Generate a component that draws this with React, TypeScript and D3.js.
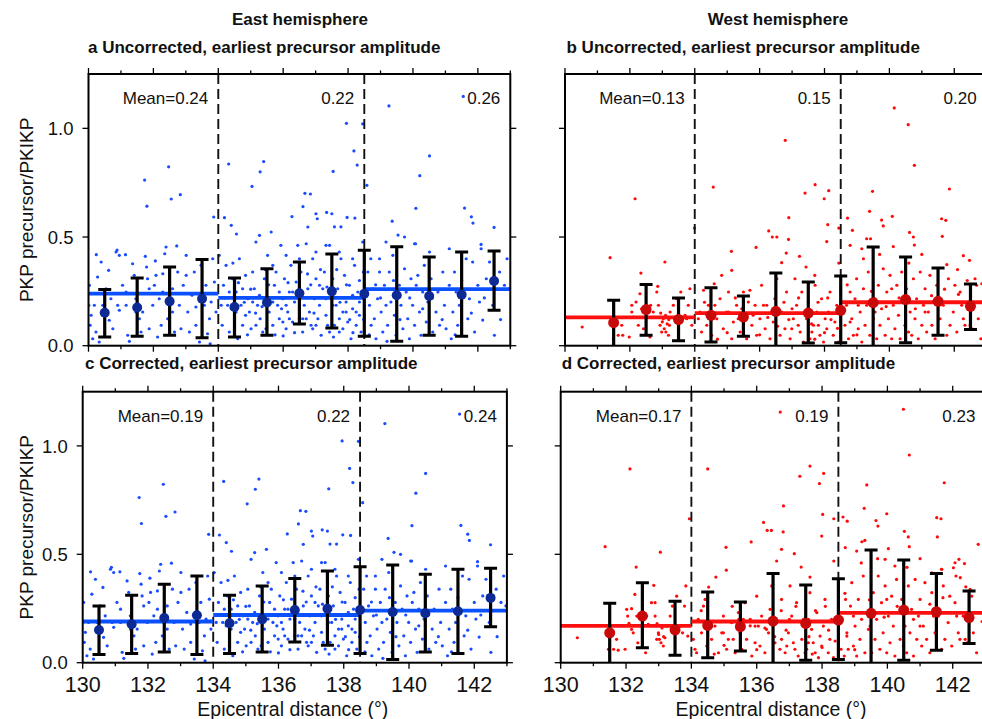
import React from 'react';
import * as d3 from 'd3';

type Pt = [number, number];

// ---------- DATA ----------
const segmentBounds = [130, 134, 138.5, 143];
const xTickValues = [130, 131, 132, 133, 134, 135, 136, 137, 138, 139, 140, 141, 142, 143];
const xTickLabels = [130, 132, 134, 136, 138, 140, 142];
const yTickValues = [0, 0.5, 1.0];

const eastBinCenters = [130.5, 131.5, 132.5, 133.5, 134.5, 135.5, 136.5, 137.5, 138.5, 139.5, 140.5, 141.5, 142.5];
const westBinCenters = [131.5, 132.5, 133.5, 134.5, 135.5, 136.5, 137.5, 138.5, 139.5, 140.5, 141.5, 142.5];

const eastUncSegMeans = [0.24, 0.22, 0.26];
const eastCorSegMeans = [0.19, 0.22, 0.24];
const westUncSegMeans = [0.13, 0.15, 0.20];
const westCorSegMeans = [0.17, 0.19, 0.23];

const eastUncMean = [0.152, 0.176, 0.204, 0.216, 0.178, 0.199, 0.241, 0.250, 0.239, 0.232, 0.229, 0.235, 0.298];
const eastUncLo = [0.040, 0.043, 0.048, 0.037, 0.040, 0.048, 0.100, 0.081, 0.044, 0.020, 0.048, 0.044, 0.163];
const eastUncHi = [0.259, 0.311, 0.362, 0.397, 0.311, 0.354, 0.385, 0.422, 0.439, 0.455, 0.408, 0.431, 0.436];

const eastCorMean = [0.151, 0.177, 0.206, 0.219, 0.182, 0.200, 0.243, 0.249, 0.243, 0.234, 0.228, 0.237, 0.299];
const eastCorLo = [0.038, 0.043, 0.049, 0.038, 0.043, 0.049, 0.095, 0.080, 0.043, 0.015, 0.049, 0.043, 0.166];
const eastCorHi = [0.262, 0.311, 0.362, 0.400, 0.311, 0.354, 0.388, 0.423, 0.442, 0.451, 0.408, 0.431, 0.436];

const westUncMean = [0.106, 0.166, 0.120, 0.140, 0.132, 0.158, 0.150, 0.163, 0.198, 0.212, 0.204, 0.181];
const westUncLo = [-0.03, 0.048, 0.023, 0.017, 0.043, -0.03, 0.012, 0.014, -0.03, 0.014, 0.048, 0.075];
const westUncHi = [0.209, 0.281, 0.219, 0.267, 0.229, 0.334, 0.293, 0.321, 0.454, 0.408, 0.357, 0.284];

const westCorMean = [0.138, 0.215, 0.151, 0.172, 0.166, 0.192, 0.181, 0.197, 0.228, 0.243, 0.235, 0.208];
const westCorLo = [-0.03, 0.069, 0.034, 0.023, 0.054, -0.03, 0.011, 0.015, -0.03, 0.011, 0.057, 0.088];
const westCorHi = [0.274, 0.369, 0.284, 0.326, 0.280, 0.411, 0.358, 0.387, 0.520, 0.474, 0.411, 0.331];

// East hemisphere individual measurements (same scatter in panels a and c)
const eastPoints: Pt[] = [
  [130.03,0.278],[130.01,0.186],[130.05,0.094],[130.13,0.032],[130.23,0.063],[130.33,0.017],[130.44,0.186],[130.49,0.140],
  [130.28,0.316],[130.62,0.347],[130.69,0.216],[130.75,0.078],[130.85,0.431],[130.95,0.416],[130.95,0.163],[131.05,0.278],
  [131.14,0.419],[131.16,0.186],[131.21,0.048],[131.26,0.020],[131.36,0.377],[131.41,0.324],[131.46,0.216],[131.57,0.124],
  [131.67,0.155],[131.75,0.411],[131.79,0.362],[131.82,0.308],[131.87,0.078],[131.98,0.186],[132.03,0.278],[132.06,0.390],
  [132.13,0.040],[132.18,0.216],[132.24,0.094],[132.29,0.331],[132.35,0.423],[132.39,0.454],[132.44,0.124],[132.49,0.186],
  [132.59,0.262],[132.65,0.063],[132.72,0.459],[132.75,0.339],[132.80,0.186],[132.85,0.078],[132.92,0.278],[133.01,0.416],
  [133.06,0.155],[133.11,0.063],[133.19,0.232],[133.26,0.339],[133.31,0.094],[133.42,0.017],[133.47,0.370],[133.57,0.186],
  [133.62,0.278],[133.67,0.055],[133.73,0.124],[133.78,0.201],[133.83,0.400],[133.88,0.293],[133.93,0.155],[133.75,0.009],
  [133.31,0.178],[133.01,0.324],[132.59,0.155],[132.29,0.247],[132.08,0.324],[131.87,0.262],[131.62,0.063],[131.46,0.155],
  [131.16,0.247],[130.90,0.186],[130.64,0.117],[130.54,0.262],[130.39,0.385],[130.18,0.186],[130.08,0.140],[130.88,0.440],
  [130.24,0.419],[131.73,0.762],[131.80,0.642],[132.47,0.823],[132.55,0.675],[132.83,0.695],[133.86,0.592],
  [134.03,0.416],[134.09,0.186],[134.12,0.094],[134.16,0.278],[134.24,0.370],[134.29,0.186],[134.34,0.063],[134.44,0.308],
  [134.50,0.124],[134.55,0.247],[134.60,0.032],[134.65,0.400],[134.70,0.186],[134.75,0.094],[134.84,0.324],[134.91,0.216],
  [134.96,0.155],[135.01,0.078],[135.06,0.339],[135.11,0.262],[135.16,0.477],[135.21,0.186],[135.27,0.508],[135.29,0.124],
  [135.37,0.063],[135.42,0.308],[135.47,0.216],[135.52,0.416],[135.57,0.155],[135.63,0.523],[135.68,0.094],[135.73,0.278],
  [135.78,0.339],[135.83,0.186],[135.88,0.124],[135.93,0.462],[135.99,0.216],[136.04,0.308],[136.09,0.078],[136.14,0.155],
  [136.19,0.247],[136.24,0.370],[136.29,0.109],[136.35,0.201],[136.40,0.293],[136.45,0.462],[136.50,0.124],[136.55,0.339],
  [136.60,0.063],[136.65,0.186],[136.71,0.469],[136.76,0.262],[136.81,0.155],[136.86,0.094],[136.91,0.400],[136.96,0.216],
  [137.01,0.308],[137.07,0.124],[137.12,0.186],[137.17,0.048],[137.22,0.262],[137.27,0.339],[137.32,0.140],[137.37,0.094],
  [137.43,0.462],[137.48,0.216],[137.53,0.308],[137.58,0.094],[137.63,0.186],[137.68,0.262],[137.73,0.063],[137.78,0.400],
  [137.84,0.155],[137.89,0.324],[137.94,0.201],[137.99,0.109],[138.04,0.278],[138.09,0.032],[138.14,0.170],[138.20,0.370],
  [138.25,0.094],[138.30,0.247],[138.35,0.140],[138.40,0.063],[138.45,0.477],[138.47,0.339],
  [134.55,0.155],[134.84,0.140],[135.06,0.201],[135.27,0.232],[135.47,0.078],[135.68,0.201],[135.88,0.247],[136.09,0.186],
  [136.29,0.247],[136.50,0.201],[136.71,0.124],[136.91,0.078],[137.12,0.278],[137.32,0.216],[137.53,0.186],[137.73,0.124],
  [137.94,0.155],[138.14,0.232],[138.35,0.201],[134.34,0.247],[134.75,0.262],[135.16,0.094],[135.99,0.109],[136.19,0.124],
  [136.60,0.124],[137.01,0.094],[137.43,0.063],[137.84,0.078],[138.25,0.155],[135.68,0.370],[136.09,0.416],[136.50,0.400],
  [137.01,0.431],[137.32,0.462],[137.73,0.431],[138.14,0.400],
  [134.20,0.220],[134.40,0.170],[134.62,0.290],[134.80,0.200],[135.00,0.260],[135.15,0.150],[135.35,0.180],[135.55,0.280],
  [135.75,0.050],[135.95,0.170],[136.15,0.290],[136.35,0.060],[136.55,0.230],[136.75,0.330],[136.95,0.150],[137.15,0.350],
  [137.35,0.270],[137.55,0.040],[137.75,0.200],[137.95,0.280],[138.15,0.060],[138.35,0.300],[138.48,0.120],[134.90,0.050],
  [135.45,0.350],[136.00,0.045],[136.85,0.280],[137.65,0.350],[138.05,0.120],[134.45,0.380],
  [134.32,0.836],[134.19,0.589],[134.40,0.554],[134.56,0.514],[135.04,0.733],[135.29,0.800],[135.40,0.847],[136.27,0.594],
  [136.61,0.640],[136.67,0.701],[136.84,0.698],[136.76,0.546],[137.01,0.607],[137.05,0.584],[137.34,0.613],[137.50,0.607],
  [137.54,0.802],[137.95,1.023],[138.18,0.896],[138.28,0.831],[138.45,1.021],[137.97,0.590],[138.21,0.587],[137.58,0.547],
  [137.78,0.547],
  [138.61,0.339],[138.66,0.186],[138.71,0.094],[138.76,0.262],[138.81,0.124],[138.86,0.032],[138.91,0.216],[138.97,0.339],
  [139.02,0.155],[139.07,0.063],[139.12,0.278],[139.17,0.186],[139.22,0.094],[139.27,0.339],[139.32,0.201],[139.38,0.416],
  [139.43,0.140],[139.48,0.048],[139.58,0.278],[139.63,0.186],[139.69,0.078],[139.74,0.354],[139.79,0.247],[139.84,0.124],
  [139.89,0.032],[139.94,0.308],[139.99,0.186],[140.05,0.094],[140.10,0.278],[140.15,0.324],[140.20,0.155],[140.25,0.048],
  [140.30,0.247],[140.35,0.370],[140.41,0.109],[140.46,0.201],[140.56,0.308],[140.61,0.063],[140.71,0.155],[140.77,0.247],
  [140.82,0.094],[140.92,0.339],[140.97,0.186],[141.02,0.078],[141.12,0.278],[141.18,0.032],[141.23,0.155],[141.28,0.339],
  [141.33,0.247],[141.38,0.094],[141.43,0.186],[141.64,0.400],[141.69,0.124],[141.74,0.216],[141.84,0.385],[141.90,0.063],
  [142.00,0.278],[142.10,0.446],[142.15,0.118],[142.26,0.308],[142.36,0.385],[142.51,0.048],[142.67,0.339],[142.82,0.278],
  [142.97,0.262],[142.46,0.186],[140.51,0.431],[140.05,0.469],[139.17,0.477],[138.97,0.400],[141.12,0.446],[142.05,0.201],
  [138.70,0.400],[138.85,0.280],[139.00,0.220],[139.40,0.300],[139.60,0.120],[139.90,0.220],[140.30,0.170],[140.60,0.220],
  [140.90,0.120],[141.30,0.050],[141.50,0.300],[141.80,0.150],[142.20,0.220],[142.70,0.120],[142.90,0.400],[138.65,0.050],
  [139.20,0.020],
  [138.58,0.738],[139.26,1.103],[140.51,0.873],[140.21,0.782],[139.36,0.573],[140.09,0.632],[141.55,1.147],[141.59,0.633],
  [141.80,0.593],[141.85,0.564],[142.50,0.544],[139.54,0.509],[139.74,0.500],[140.08,0.469],[142.10,0.466],
];

// West hemisphere, uncorrected (panel b)
const westUncPoints: Pt[] = [
  [130.53,0.086],[131.39,0.405],[132.16,0.676],[132.34,0.334],[133.08,0.385],[133.99,0.541],[134.57,0.730],[134.60,0.285],
  [134.83,0.324],[135.14,0.347],[135.13,0.434],[135.89,0.452],[136.28,0.528],[136.39,0.500],[136.53,0.500],[136.79,0.945],
  [136.90,0.589],[136.89,0.489],[136.82,0.426],[136.68,0.382],[137.23,0.411],[137.40,0.702],[137.71,0.741],[137.99,0.676],
  [138.13,0.713],[138.10,0.557],[138.07,0.479],[138.44,0.541],[138.44,0.380],[137.43,0.362],[137.70,0.324],
  [138.71,0.587],[138.86,0.531],[138.79,0.462],[139.15,0.446],[139.30,0.492],[139.42,0.492],[139.39,0.618],[139.48,0.710],
  [139.76,0.578],[139.81,0.551],[140.09,0.595],[140.15,1.094],[140.58,1.017],[140.77,0.830],[140.62,0.521],[140.74,0.500],
  [140.77,0.463],[140.12,0.456],[141.85,0.721],[141.61,0.584],[141.74,0.577],[141.63,0.503],[141.77,0.373],[142.28,0.414],
  [142.47,0.393],[142.85,0.285],[142.13,0.236],
  [131.49,0.032],[131.64,0.048],[131.78,0.048],[131.98,0.040],[132.06,0.186],[132.06,0.155],[132.11,0.132],[132.19,0.201],
  [132.26,0.094],[132.31,0.239],[132.36,0.170],[132.42,0.078],[132.62,0.040],[132.64,0.186],[132.72,0.155],[132.83,0.247],
  [132.86,0.273],[132.88,0.186],[132.93,0.094],[132.98,0.063],[133.03,0.124],[133.06,0.078],[133.11,0.063],[133.19,0.048],
  [133.22,0.094],[133.24,0.155],[133.34,0.186],[133.44,0.216],[133.57,0.247],[133.60,0.124],[133.70,0.140],[133.75,0.124],
  [133.80,0.186],[133.85,0.262],[133.91,0.094],[131.75,0.094],[133.00,0.110],[133.10,0.140],[133.15,0.100],[132.95,0.150],
  [133.20,0.120],
  [134.16,0.155],[134.27,0.255],[134.37,0.094],[134.42,0.186],[134.52,0.048],[134.68,0.124],[134.78,0.216],[134.88,0.078],
  [134.98,0.155],[135.04,0.247],[135.14,0.032],[135.19,0.109],[135.29,0.186],[135.40,0.063],[135.50,0.247],[135.55,0.140],
  [135.60,0.032],[135.70,0.255],[135.76,0.094],[135.86,0.186],[135.91,0.048],[136.01,0.124],[136.06,0.278],[136.17,0.078],
  [136.22,0.186],[136.32,0.032],[136.42,0.109],[136.47,0.216],[136.53,0.308],[136.63,0.048],[136.68,0.155],[136.78,0.078],
  [136.83,0.247],[136.94,0.032],[137.04,0.124],[137.09,0.308],[137.14,0.186],[137.25,0.063],[137.30,0.247],[137.35,0.017],
  [137.45,0.124],[137.50,0.201],[137.55,0.032],[137.66,0.094],[137.71,0.278],[137.76,0.155],[137.86,0.048],[137.91,0.216],
  [137.97,0.017],[138.07,0.078],[138.12,0.155],[138.17,0.247],[138.27,0.048],[138.32,0.109],[138.38,0.186],[138.43,0.017],
  [138.02,0.124],[137.81,0.094],[137.61,0.063],[137.19,0.094],[136.99,0.078],[136.37,0.155],[136.12,0.186],[135.65,0.201],
  [135.34,0.124],[135.04,0.155],[134.62,0.186],[134.21,0.063],[134.11,0.124],
  [134.30,0.200],[134.50,0.120],[134.70,0.030],[135.00,0.060],[135.25,0.220],[135.45,0.170],[135.80,0.140],[136.00,0.050],
  [136.25,0.130],[136.55,0.090],[136.75,0.200],[137.00,0.170],[137.20,0.220],[137.40,0.150],[137.60,0.100],[137.80,0.200],
  [138.00,0.060],[138.20,0.120],[138.40,0.080],[136.90,0.120],[137.70,0.030],[138.10,0.220],
  [138.63,0.094],[138.68,0.186],[138.74,0.032],[138.79,0.247],[138.84,0.124],[138.89,0.048],[138.94,0.216],[138.99,0.308],
  [139.04,0.078],[139.10,0.155],[139.15,0.017],[139.20,0.262],[139.25,0.094],[139.30,0.186],[139.35,0.339],[139.40,0.048],
  [139.51,0.124],[139.56,0.216],[139.61,0.032],[139.66,0.278],[139.71,0.094],[139.76,0.170],[139.81,0.354],[139.87,0.048],
  [139.92,0.247],[139.97,0.124],[140.02,0.324],[140.07,0.032],[140.12,0.186],[140.17,0.078],[140.23,0.278],[140.28,0.140],
  [140.33,0.032],[140.38,0.339],[140.43,0.201],[140.48,0.094],[140.53,0.262],[140.64,0.155],[140.69,0.048],[140.74,0.308],
  [140.79,0.124],[140.84,0.216],[140.89,0.032],[140.95,0.339],[141.00,0.094],[141.05,0.186],[141.10,0.262],[141.15,0.063],
  [141.20,0.155],[141.25,0.324],[141.31,0.094],[141.36,0.201],[141.41,0.032],[141.46,0.278],[141.56,0.124],[141.66,0.186],
  [141.77,0.048],[141.82,0.308],[141.87,0.094],[141.97,0.155],[142.08,0.063],[142.18,0.247],[142.28,0.124],[142.33,0.094],
  [142.44,0.186],[142.54,0.078],[142.64,0.308],[142.74,0.124],[142.82,0.032],[142.69,0.278],[142.49,0.094],[142.23,0.186],
  [142.02,0.278],[141.51,0.186],[141.10,0.155],[140.59,0.063],[140.07,0.262],[139.56,0.155],[139.04,0.186],[138.79,0.109],
  [138.70,0.280],[139.00,0.050],[139.45,0.250],[139.90,0.180],[140.30,0.220],[140.80,0.170],[141.30,0.230],[141.70,0.260],
  [142.10,0.350],[142.40,0.300],[142.90,0.160],[139.20,0.400],[140.60,0.380],[141.00,0.420],[139.70,0.420],
];

// West hemisphere, corrected (panel d)
const westCorPoints: Pt[] = [
  [130.51,0.115],[131.36,0.535],[132.12,0.894],[132.31,0.441],[133.05,0.510],[133.94,0.664],[134.50,0.894],[134.53,0.349],
  [134.75,0.395],[135.06,0.532],[135.07,0.427],[135.83,0.557],[136.21,0.647],[136.32,0.610],[136.45,0.610],[136.72,1.156],
  [136.82,0.723],[136.81,0.603],[136.76,0.523],[136.61,0.469],[137.15,0.503],[137.32,0.860],[137.63,0.907],[137.92,0.826],
  [138.05,0.873],[138.02,0.684],[137.99,0.584],[138.36,0.664],[138.36,0.469],[137.36,0.441],[137.63,0.395],
  [138.64,0.672],[138.77,0.653],[138.71,0.531],[139.06,0.515],[139.22,0.558],[139.31,0.564],[139.29,0.712],[139.37,0.820],
  [139.65,0.656],[139.71,0.630],[139.98,0.687],[140.49,1.169],[140.67,0.958],[140.52,0.606],[140.64,0.580],[140.67,0.535],
  [140.03,0.526],[141.74,0.830],[141.51,0.669],[141.64,0.664],[141.53,0.580],[141.66,0.431],[142.19,0.477],[142.36,0.457],
  [142.78,0.546],[142.02,0.438],[142.23,0.392],
  [131.46,0.062],[131.62,0.062],[131.76,0.058],[131.97,0.062],[132.02,0.246],[132.05,0.215],[132.09,0.181],[132.17,0.249],
  [132.22,0.138],[132.27,0.315],[132.33,0.215],[132.36,0.092],[132.60,0.046],[132.63,0.215],[132.68,0.177],[132.78,0.277],
  [132.85,0.357],[132.89,0.215],[132.94,0.108],[132.99,0.138],[133.02,0.108],[133.07,0.092],[133.14,0.077],[133.19,0.115],
  [133.24,0.169],[133.35,0.215],[133.42,0.261],[133.55,0.307],[133.58,0.138],[133.70,0.169],[133.73,0.138],[133.79,0.261],
  [133.83,0.354],[133.89,0.123],[131.71,0.108],[132.17,0.154],[132.89,0.277],[133.00,0.130],[133.10,0.160],[133.15,0.120],
  [132.95,0.180],
  [134.11,0.062],[134.21,0.200],[134.31,0.138],[134.37,0.261],[134.47,0.077],[134.62,0.108],[134.72,0.169],[134.83,0.046],
  [134.93,0.138],[134.98,0.215],[135.08,0.062],[135.13,0.108],[135.23,0.185],[135.34,0.046],[135.44,0.231],[135.49,0.138],
  [135.54,0.062],[135.64,0.277],[135.69,0.108],[135.80,0.200],[135.85,0.031],[135.95,0.169],[136.00,0.307],[136.10,0.077],
  [136.15,0.215],[136.25,0.046],[136.36,0.138],[136.41,0.246],[136.46,0.354],[136.56,0.092],[136.61,0.185],[136.71,0.062],
  [136.76,0.292],[136.87,0.046],[136.97,0.138],[137.02,0.354],[137.07,0.215],[137.17,0.062],[137.22,0.277],[137.27,0.031],
  [137.38,0.108],[137.43,0.200],[137.48,0.046],[137.58,0.092],[137.63,0.323],[137.68,0.154],[137.79,0.046],[137.84,0.231],
  [137.89,0.023],[137.99,0.077],[138.04,0.169],[138.09,0.292],[138.19,0.046],[138.24,0.108],[138.29,0.200],[138.35,0.023],
  [137.94,0.123],[137.73,0.092],[137.53,0.062],[137.12,0.092],[136.92,0.077],[136.30,0.154],[136.05,0.169],[135.59,0.200],
  [135.28,0.108],[134.98,0.138],[134.57,0.169],[134.16,0.046],[134.06,0.108],[134.42,0.292],[135.95,0.092],[136.76,0.108],
  [137.58,0.200],
  [134.30,0.240],[134.50,0.150],[134.70,0.040],[135.00,0.080],[135.25,0.260],[135.45,0.200],[135.80,0.170],[136.00,0.060],
  [136.25,0.160],[136.55,0.120],[136.75,0.240],[137.00,0.200],[137.20,0.260],[137.40,0.180],[137.60,0.120],[137.80,0.240],
  [138.00,0.070],[138.20,0.150],[138.40,0.100],[136.90,0.150],[137.70,0.040],[138.10,0.260],
  [138.58,0.062],[138.62,0.200],[138.68,0.031],[138.72,0.292],[138.76,0.138],[138.80,0.062],[138.87,0.261],[138.91,0.369],
  [138.96,0.077],[139.01,0.169],[139.06,0.031],[139.11,0.292],[139.16,0.108],[139.21,0.200],[139.26,0.400],[139.31,0.046],
  [139.42,0.154],[139.47,0.246],[139.52,0.046],[139.57,0.323],[139.62,0.108],[139.67,0.200],[139.72,0.400],[139.77,0.062],
  [139.82,0.277],[139.87,0.138],[139.93,0.354],[139.98,0.046],[140.03,0.215],[140.08,0.092],[140.13,0.307],[140.18,0.169],
  [140.23,0.031],[140.28,0.384],[140.34,0.231],[140.39,0.108],[140.44,0.292],[140.54,0.169],[140.59,0.046],[140.64,0.354],
  [140.69,0.138],[140.74,0.246],[140.80,0.031],[140.85,0.384],[140.90,0.108],[140.95,0.215],[141.00,0.292],[141.05,0.077],
  [141.10,0.169],[141.15,0.369],[141.20,0.108],[141.25,0.231],[141.30,0.046],[141.36,0.323],[141.46,0.138],[141.56,0.215],
  [141.66,0.062],[141.71,0.354],[141.76,0.108],[141.86,0.185],[141.97,0.077],[142.07,0.277],[142.17,0.138],[142.22,0.108],
  [142.32,0.215],[142.43,0.092],[142.53,0.338],[142.63,0.138],[142.73,0.046],[142.58,0.307],[142.38,0.108],[142.12,0.215],
  [141.91,0.307],[141.41,0.215],[141.00,0.169],[140.49,0.077],[139.98,0.292],[139.47,0.169],[138.96,0.215],[138.76,0.123],
  [139.93,0.477],[140.23,0.446],[141.36,0.415],[141.66,0.431],[142.07,0.461],
  [138.70,0.320],[139.00,0.060],[139.45,0.290],[139.90,0.210],[140.30,0.260],[140.80,0.200],[141.30,0.270],[141.70,0.300],
  [142.10,0.400],[142.40,0.350],[142.90,0.190],[139.20,0.460],[140.60,0.440],[141.00,0.480],[139.70,0.480],
];

// ---------- STYLE / LAYOUT ----------
const FONT = "'Liberation Sans', Arial, Helvetica, sans-serif";

type Box = { x0: number; x1: number; y0: number; y1: number };

interface PanelProps {
  id: string;
  box: Box;
  points: Pt[];
  segMeans: number[];
  centers: number[];
  mean: number[];
  lo: number[];
  hi: number[];
  dotColor: string;
  lineColor: string;
  markerColor: string;
  markerR: number;
  title: string;
  titleDx: number;
  titleY: number;
  yLabels: boolean;
  xLabels: boolean;
}

function Panel(p: PanelProps) {
  const { box } = p;
  const x = d3.scaleLinear().domain([130, 143]).range([box.x0, box.x1]);
  const y = d3.scaleLinear().domain([0, 1.25]).range([box.y1, box.y0]);
  const clipId = `clip-${p.id}`;
  const fmt = d3.format('.1f');
  return (
    <g>
      <defs>
        <clipPath id={clipId}>
          <rect x={box.x0} y={box.y0} width={box.x1 - box.x0} height={box.y1 - box.y0} />
        </clipPath>
      </defs>
      <text x={box.x0 + p.titleDx} y={p.titleY} fontFamily={FONT} fontWeight="bold" fontSize={17} fill="#111">
        {p.title}
      </text>
      <g clipPath={`url(#${clipId})`}>
        {p.points.map((d, i) => (
          <circle key={i} cx={x(d[0])} cy={y(d[1])} r={1.6} fill={p.dotColor} />
        ))}
        {[segmentBounds[1], segmentBounds[2]].map((b) => (
          <line key={b} x1={x(b)} x2={x(b)} y1={box.y0} y2={box.y1} stroke="#111" strokeWidth={1.9} strokeDasharray="10 5" />
        ))}
        {p.segMeans.map((m, i) => (
          <line key={i} x1={x(segmentBounds[i])} x2={x(segmentBounds[i + 1])} y1={y(m)} y2={y(m)} stroke={p.lineColor} strokeWidth={3.8} />
        ))}
        {p.centers.map((c, i) => (
          <g key={i}>
            <line x1={x(c)} x2={x(c)} y1={y(p.lo[i])} y2={y(p.hi[i])} stroke="#000" strokeWidth={3.2} />
            <line x1={x(c) - 6.5} x2={x(c) + 6.5} y1={y(p.lo[i])} y2={y(p.lo[i])} stroke="#000" strokeWidth={3} />
            <line x1={x(c) - 6.5} x2={x(c) + 6.5} y1={y(p.hi[i])} y2={y(p.hi[i])} stroke="#000" strokeWidth={3} />
            <circle cx={x(c)} cy={y(p.mean[i])} r={p.markerR} fill={p.markerColor} />
          </g>
        ))}
      </g>
      {p.segMeans.map((m, i) => (
        <text key={i} x={x(segmentBounds[i + 1]) - 10} y={box.y0 + 30} textAnchor="end" fontFamily={FONT} fontSize={17} fill="#111">
          {i === 0 ? `Mean=${m.toFixed(2)}` : m.toFixed(2)}
        </text>
      ))}
      <rect x={box.x0} y={box.y0} width={box.x1 - box.x0} height={box.y1 - box.y0} fill="none" stroke="#000" strokeWidth={2} />
      {xTickValues.map((t) => {
        const len = t % 2 === 0 ? 6 : 3.5;
        return (
          <g key={t}>
            <line x1={x(t)} x2={x(t)} y1={box.y0} y2={box.y0 - len} stroke="#000" strokeWidth={1.3} />
            <line x1={x(t)} x2={x(t)} y1={box.y1} y2={box.y1 + len} stroke="#000" strokeWidth={1.3} />
          </g>
        );
      })}
      {yTickValues.map((t) => (
        <g key={t}>
          <line x1={box.x0} x2={box.x0 - 6} y1={y(t)} y2={y(t)} stroke="#000" strokeWidth={1.3} />
          <line x1={box.x1} x2={box.x1 + 6} y1={y(t)} y2={y(t)} stroke="#000" strokeWidth={1.3} />
        </g>
      ))}
      {p.yLabels &&
        yTickValues.map((t) => (
          <text key={t} x={box.x0 - 15} y={y(t)} dy="0.36em" textAnchor="end" fontFamily={FONT} fontSize={18.5} fill="#111">
            {fmt(t)}
          </text>
        ))}
      {p.yLabels && (
        <text
          transform={`translate(33,${(box.y0 + box.y1) / 2}) rotate(-90)`}
          textAnchor="middle"
          fontFamily={FONT}
          fontSize={19}
          fill="#111"
        >
          PKP precursor/PKIKP
        </text>
      )}
      {p.xLabels &&
        xTickLabels.map((t) => (
          <text key={t} x={x(t)} y={box.y1 + 29} textAnchor="middle" fontFamily={FONT} fontSize={21.5} fill="#111">
            {t}
          </text>
        ))}
      {p.xLabels && (
        <text x={(box.x0 + box.x1) / 2 - 2} y={box.y1 + 53} textAnchor="middle" fontFamily={FONT} fontSize={19.5} fill="#111">
          Epicentral distance (°)
        </text>
      )}
    </g>
  );
}

const BLUE_DOT = '#1a4cff';
const BLUE_LINE = '#0a50ff';
const NAVY = '#0d2a94';
const RED_DOT = '#ff0a0a';
const RED_LINE = '#ff1010';
const DARK_RED = '#c80a0a';

export default function App() {
  const boxA: Box = { x0: 88.5, x1: 510.3, y0: 74, y1: 345.7 };
  const boxB: Box = { x0: 565, x1: 986.7, y0: 74, y1: 345.7 };
  const boxC: Box = { x0: 82.7, x1: 506.9, y0: 391.7, y1: 662.7 };
  const boxD: Box = { x0: 560.7, x1: 985.4, y0: 391.7, y1: 662.7 };
  return (
    <svg
      width={982}
      height={719}
      viewBox="0 0 982 719"
      style={{ position: 'absolute', left: 0, top: 0, background: '#fff' }}
    >
      <rect x={0} y={0} width={982} height={719} fill="#fff" />
      <text x={300} y={25} textAnchor="middle" fontFamily={FONT} fontWeight="bold" fontSize={17} fill="#111">
        East hemisphere
      </text>
      <text x={778} y={25} textAnchor="middle" fontFamily={FONT} fontWeight="bold" fontSize={17} fill="#111">
        West hemisphere
      </text>
      <Panel id="a" box={boxA} points={eastPoints} segMeans={eastUncSegMeans} centers={eastBinCenters}
        mean={eastUncMean} lo={eastUncLo} hi={eastUncHi} dotColor={BLUE_DOT} lineColor={BLUE_LINE}
        markerColor={NAVY} markerR={5} title="a Uncorrected, earliest precursor amplitude" titleDx={-0.5} titleY={53}
        yLabels={true} xLabels={false} />
      <Panel id="b" box={boxB} points={westUncPoints} segMeans={westUncSegMeans} centers={westBinCenters}
        mean={westUncMean} lo={westUncLo} hi={westUncHi} dotColor={RED_DOT} lineColor={RED_LINE}
        markerColor={DARK_RED} markerR={5.5} title="b Uncorrected, earliest precursor amplitude" titleDx={1.5} titleY={53}
        yLabels={false} xLabels={false} />
      <Panel id="c" box={boxC} points={eastPoints} segMeans={eastCorSegMeans} centers={eastBinCenters}
        mean={eastCorMean} lo={eastCorLo} hi={eastCorHi} dotColor={BLUE_DOT} lineColor={BLUE_LINE}
        markerColor={NAVY} markerR={5} title="c Corrected, earliest precursor amplitude" titleDx={2.3} titleY={369}
        yLabels={true} xLabels={true} />
      <Panel id="d" box={boxD} points={westCorPoints} segMeans={westCorSegMeans} centers={westBinCenters}
        mean={westCorMean} lo={westCorLo} hi={westCorHi} dotColor={RED_DOT} lineColor={RED_LINE}
        markerColor={DARK_RED} markerR={5.5} title="d Corrected, earliest precursor amplitude" titleDx={1} titleY={369}
        yLabels={false} xLabels={true} />
    </svg>
  );
}
